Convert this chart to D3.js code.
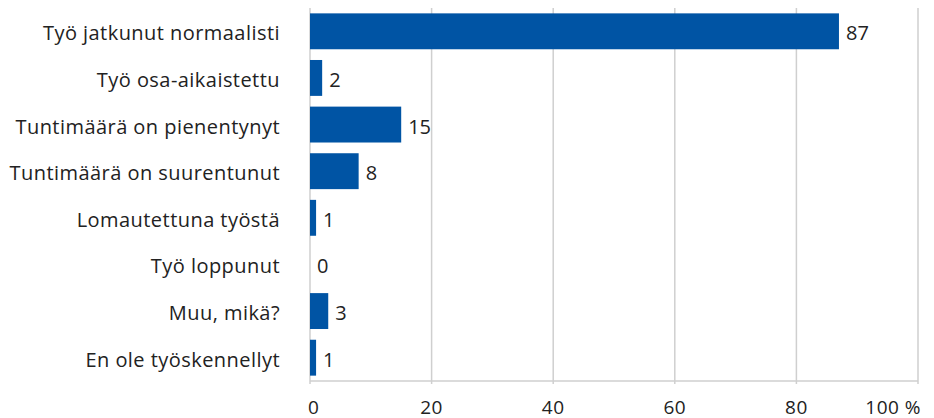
<!DOCTYPE html>
<html>
<head>
<meta charset="utf-8">
<script src="https://cdn.jsdelivr.net/npm/d3@7"></script>
<style>
  body { margin: 0; background: #fff; }
  svg text { font-family: "Open Sans", sans-serif; fill: #222; }
</style>
</head>
<body>
<svg id="chart" width="934" height="418"></svg>
<script>
const categories = [
  "Työ jatkunut normaalisti",
  "Työ osa-aikaistettu",
  "Tuntimäärä on pienentynyt",
  "Tuntimäärä on suurentunut",
  "Lomautettuna työstä",
  "Työ loppunut",
  "Muu, mikä?",
  "En ole työskennellyt"
];
const values = [87, 2, 15, 8, 1, 0, 3, 1];
const ticks = [0, 20, 40, 60, 80, 100];

const svg = d3.select('#chart');
const plotLeft = 310, plotRight = 918, plotTop = 8, plotBottom = 381;

const x = d3.scaleLinear().domain([0, 100]).range([plotLeft, plotRight]);
const y = d3.scaleBand().domain(categories).range([plotTop, plotBottom]).paddingInner(0.23).paddingOuter(0.115);

// gridlines
svg.append('g').selectAll('line').data(ticks).enter().append('line')
  .attr('x1', d => x(d)).attr('x2', d => x(d))
  .attr('y1', plotTop).attr('y2', plotBottom + 3)
  .attr('stroke', '#cfcfcf').attr('stroke-width', 1.5);

// baseline
svg.append('line')
  .attr('x1', plotLeft).attr('x2', plotRight)
  .attr('y1', plotBottom).attr('y2', plotBottom)
  .attr('stroke', '#cfcfcf').attr('stroke-width', 1.5);

// x tick labels (first and last kept inside the plot edges)
svg.append('g').selectAll('text').data(ticks).enter().append('text')
  .attr('x', (d, i) => i === 0 ? x(d) - 2 : i === ticks.length - 1 ? x(d) + 3 : x(d))
  .attr('y', 414)
  .attr('text-anchor', (d, i) => i === 0 ? 'start' : i === ticks.length - 1 ? 'end' : 'middle')
  .attr('font-size', 19)
  .attr('letter-spacing', 0.5)
  .text(d => d === 100 ? '100 %' : d);

// bars
svg.append('g').selectAll('rect').data(values).enter().append('rect')
  .attr('x', x(0))
  .attr('y', (d, i) => y(categories[i]))
  .attr('width', d => x(d) - x(0))
  .attr('height', y.bandwidth())
  .attr('fill', '#0054a4');

// value labels
svg.append('g').selectAll('text').data(values).enter().append('text')
  .attr('x', d => x(d) + 7)
  .attr('y', (d, i) => y(categories[i]) + y.bandwidth() / 2)
  .attr('dy', '0.45em')
  .attr('font-size', 20)
  .text(d => d);

// category labels
svg.append('g').selectAll('text').data(categories).enter().append('text')
  .attr('x', 280)
  .attr('y', d => y(d) + y.bandwidth() / 2)
  .attr('dy', '0.45em')
  .attr('text-anchor', 'end')
  .attr('font-size', 20)
  .attr('letter-spacing', 0.45)
  .text(d => d);
</script>
</body>
</html>
